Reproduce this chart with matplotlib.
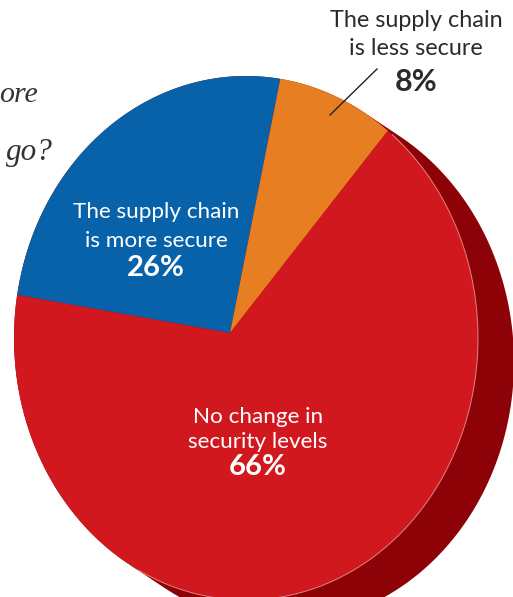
import numpy as np
import matplotlib
matplotlib.use("Agg")
import matplotlib.pyplot as plt
from matplotlib.patches import Ellipse

# ---- data ----
categories = ["The supply chain\nis more secure", "The supply chain\nis less secure", "No change in\nsecurity levels"]
values = [26, 8, 66]
pct_labels = ["26%", "8%", "66%"]
colors = ["#0862AA", "#E77E22", "#D1181F"]
side_color = "#8C0206"

W, H = 513, 597
fig = plt.figure(figsize=(W / 100, H / 100), dpi=100)
fig.patch.set_facecolor("white")

# pie axes: 1 data unit = rx px horizontally, ry px vertically; origin at the pie apex
ax0, ay0 = 230, 333          # apex in pixels
rx, ry = 232, 262            # front-face radii in pixels
fcx, fcy = 246, 338          # front-face centre in pixels
ec = ((fcx - ax0) / rx, -(fcy - ay0) / ry)

ax = fig.add_axes([0, 0, 1, 1])
wedges, _ = ax.pie(values, colors=colors, startangle=171, counterclock=False,
                   radius=1.3, center=(0, 0), wedgeprops=dict(linewidth=0))
clip = Ellipse(ec, 2, 2, transform=ax.transData, facecolor="none", edgecolor="none")
ax.add_patch(clip)
for w in wedges:
    w.set_zorder(3)
    w.set_clip_on(True)
    w.set_clip_path(clip)

# side (thickness) of the disk: Minkowski sum of the front face and a shift vector
s = np.array([36 / rx, -24 / ry])
phi = np.arctan2(s[1], s[0])
t1 = np.linspace(phi - np.pi / 2, phi + np.pi / 2, 200)
t2 = np.linspace(phi + np.pi / 2, phi + 3 * np.pi / 2, 200)
xs = np.concatenate([np.cos(t1) + s[0], np.cos(t2)]) + ec[0]
ys = np.concatenate([np.sin(t1) + s[1], np.sin(t2)]) + ec[1]
ax.fill(xs, ys, color=side_color, zorder=2, lw=0)
# faint highlight along the front rim
ta = np.linspace(phi - np.pi / 2 + 0.05, phi + np.pi / 2 - 0.15, 200)
ax.plot(np.cos(ta) + ec[0], np.sin(ta) + ec[1], color="#F0A0A0", lw=0.7, alpha=0.8, zorder=4)

ax.set_aspect("auto")
ax.set_xlim(-ax0 / rx, (W - ax0) / rx)
ax.set_ylim(-(H - ay0) / ry, ay0 / ry)
ax.axis("off")

# overlay axes in pixel coordinates for texts
ax2 = fig.add_axes([0, 0, 1, 1])
ax2.set_xlim(0, W)
ax2.set_ylim(H, 0)
ax2.axis("off")
ax2.patch.set_alpha(0)

sans = ["Lato", "DejaVu Sans"]

def label(x, y_lines, y_pct, text, pct, color, fs, fsb):
    for line, y in zip(text.split("\n"), y_lines):
        ax2.text(x, y, line, ha="center", va="baseline", color=color,
                 fontsize=fs, family=sans)
    ax2.text(x, y_pct, pct, ha="center", va="baseline", color=color,
             fontsize=fsb, family=sans, fontweight="bold")

label(156, [218, 247], 276, categories[0], pct_labels[0], "white", 16.2, 21)
label(416, [27, 55], 91, categories[1], pct_labels[1], "#2b2b2b", 16.8, 22)
label(258, [423, 448], 475, categories[2], pct_labels[2], "white", 16.2, 21)

# leader line for the small slice
ax2.plot([330, 377], [115, 69], color="#222222", lw=1)

# partial question text on the left (cut off by the frame in the original)
serif = ["Liberation Serif", "DejaVu Serif"]
ax2.text(38, 102, "ore", ha="right", va="baseline", fontsize=21.5,
         family=serif, style="italic", color="#333333")
ax2.text(53, 160, "go?", ha="right", va="baseline", fontsize=22.5,
         family=serif, style="italic", color="#333333")

fig.savefig("out.png", dpi=100)
